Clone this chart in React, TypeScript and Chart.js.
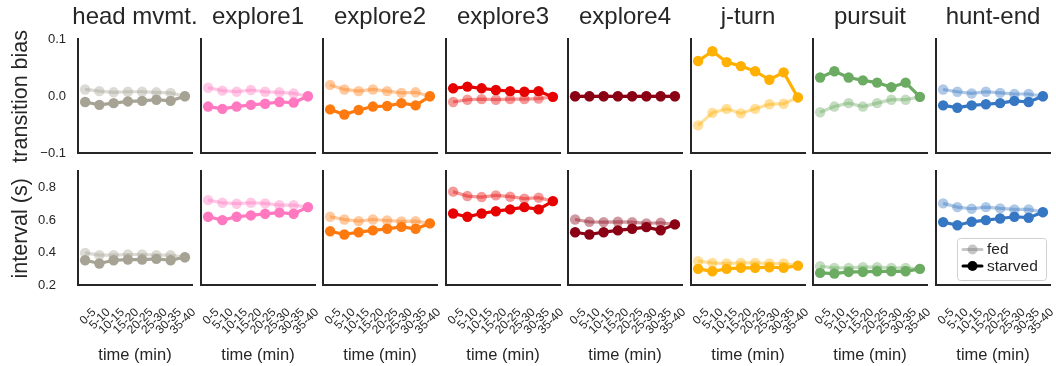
import React, { useEffect, useRef } from 'react';
import { Chart, registerables } from 'chart.js';

Chart.register(...registerables);

// ---------- data ----------
const timeBins = ['0-5', '5-10', '10-15', '15-20', '20-25', '25-30', '30-35', '35-40'];
const behaviours = ['head mvmt.', 'explore1', 'explore2', 'explore3', 'explore4', 'j-turn', 'pursuit', 'hunt-end'];
const behaviourColors = ['#a6a394', '#ff78c0', '#ff7a0e', '#e60000', '#8a0014', '#ffb000', '#6cab62', '#3677c4'];

const biasTicks = [-0.1, 0.0, 0.1];
const biasTickLabels = ['\u22120.1', '0.0', '0.1'];
const intervalTicks = [0.2, 0.4, 0.6, 0.8];
const intervalTickLabels = ['0.2', '0.4', '0.6', '0.8'];

const legendLabels = ['fed', 'starved'];

// transition bias
const headBiasStarved = [-0.010, -0.015, -0.012, -0.009, -0.008, -0.006, -0.008, 0.0];
const headBiasFed = [0.012, 0.009, 0.007, 0.008, 0.008, 0.007, 0.006, 0.0];
const explore1BiasStarved = [-0.018, -0.022, -0.018, -0.015, -0.013, -0.010, -0.011, 0.0];
const explore1BiasFed = [0.015, 0.010, 0.008, 0.011, 0.008, 0.007, 0.005, 0.0];
const explore2BiasStarved = [-0.023, -0.032, -0.024, -0.018, -0.017, -0.012, -0.016, 0.0];
const explore2BiasFed = [0.020, 0.012, 0.009, 0.012, 0.009, 0.006, 0.007, 0.0];
const explore3BiasStarved = [0.014, 0.017, 0.014, 0.011, 0.009, 0.008, 0.009, -0.001];
const explore3BiasFed = [-0.010, -0.006, -0.005, -0.006, -0.005, -0.005, -0.004, -0.001];
const explore4BiasStarved = [0.0, 0.0, 0.0, 0.0, 0.0, 0.0, 0.0, 0.0];
const explore4BiasFed = [0.0, 0.0, 0.0, 0.0, 0.0, 0.0, 0.0, 0.0];
const jturnBiasStarved = [0.062, 0.079, 0.060, 0.053, 0.044, 0.029, 0.042, -0.002];
const jturnBiasFed = [-0.051, -0.029, -0.022, -0.030, -0.022, -0.014, -0.013, -0.002];
const pursuitBiasStarved = [0.033, 0.044, 0.033, 0.028, 0.024, 0.016, 0.024, -0.001];
const pursuitBiasFed = [-0.028, -0.018, -0.012, -0.018, -0.012, -0.006, -0.006, -0.001];
const huntendBiasStarved = [-0.016, -0.020, -0.016, -0.014, -0.012, -0.008, -0.010, 0.0];
const huntendBiasFed = [0.012, 0.008, 0.005, 0.008, 0.006, 0.004, 0.004, 0.0];

// interval (s)
const headIntStarved = [0.354, 0.334, 0.354, 0.358, 0.358, 0.362, 0.354, 0.372];
const headIntFed = [0.399, 0.385, 0.385, 0.389, 0.389, 0.385, 0.385, 0.372];
const explore1IntStarved = [0.621, 0.600, 0.621, 0.629, 0.639, 0.646, 0.639, 0.680];
const explore1IntFed = [0.723, 0.707, 0.701, 0.707, 0.703, 0.692, 0.692, 0.680];
const explore2IntStarved = [0.532, 0.512, 0.526, 0.537, 0.547, 0.559, 0.547, 0.580];
const explore2IntFed = [0.621, 0.604, 0.594, 0.604, 0.598, 0.592, 0.594, 0.580];
const explore3IntStarved = [0.641, 0.621, 0.641, 0.655, 0.666, 0.680, 0.666, 0.717];
const explore3IntFed = [0.775, 0.748, 0.742, 0.752, 0.744, 0.732, 0.738, 0.717];
const explore4IntStarved = [0.526, 0.512, 0.526, 0.537, 0.547, 0.557, 0.538, 0.574];
const explore4IntFed = [0.604, 0.590, 0.588, 0.590, 0.588, 0.580, 0.584, 0.574];
const jturnIntStarved = [0.301, 0.286, 0.301, 0.307, 0.307, 0.311, 0.307, 0.321];
const jturnIntFed = [0.348, 0.338, 0.334, 0.338, 0.338, 0.334, 0.334, 0.321];
const pursuitIntStarved = [0.276, 0.272, 0.282, 0.282, 0.286, 0.286, 0.286, 0.301];
const pursuitIntFed = [0.317, 0.307, 0.307, 0.311, 0.311, 0.307, 0.307, 0.301];
const huntendIntStarved = [0.588, 0.569, 0.590, 0.600, 0.610, 0.621, 0.615, 0.649];
const huntendIntFed = [0.703, 0.680, 0.670, 0.680, 0.672, 0.666, 0.666, 0.649];

const biasStarved = [headBiasStarved, explore1BiasStarved, explore2BiasStarved, explore3BiasStarved, explore4BiasStarved, jturnBiasStarved, pursuitBiasStarved, huntendBiasStarved];
const biasFed = [headBiasFed, explore1BiasFed, explore2BiasFed, explore3BiasFed, explore4BiasFed, jturnBiasFed, pursuitBiasFed, huntendBiasFed];
const intStarved = [headIntStarved, explore1IntStarved, explore2IntStarved, explore3IntStarved, explore4IntStarved, jturnIntStarved, pursuitIntStarved, huntendIntStarved];
const intFed = [headIntFed, explore1IntFed, explore2IntFed, explore3IntFed, explore4IntFed, jturnIntFed, pursuitIntFed, huntendIntFed];

// ---------- style / layout ----------
const FONT = "'Liberation Sans', Arial, sans-serif";
const TEXT = '#262626';
const PLOT_LEFTS = [78, 201, 323, 446, 568, 691, 813, 936];
const PLOT_W = 114;
const SIDE_FIRST = 78;
const SIDE_OTHER = 34;
const FED_ALPHA = 0.4;

function rgba(hex: string, a: number) {
  const n = parseInt(hex.slice(1), 16);
  return `rgba(${(n >> 16) & 255},${(n >> 8) & 255},${n & 255},${a})`;
}

const legendPlugin = {
  id: 'innerLegend',
  afterDraw(chart: any) {
    const { ctx, chartArea } = chart;
    const w = 89;
    const h = 42;
    const x = Math.round(chartArea.right - 4 - w);
    const y = Math.round(chartArea.bottom - 5 - h);
    ctx.save();
    ctx.beginPath();
    ctx.roundRect(x + 0.5, y + 0.5, w, h, 3);
    ctx.fillStyle = 'rgba(255,255,255,0.8)';
    ctx.fill();
    ctx.strokeStyle = '#d0d0d0';
    ctx.lineWidth = 1;
    ctx.stroke();
    const handleColors = [rgba('#808080', 0.45), '#000000'];
    legendLabels.forEach((label, i) => {
      const cy = y + 11.5 + i * 16.5;
      ctx.strokeStyle = handleColors[i];
      ctx.fillStyle = handleColors[i];
      ctx.lineWidth = 3;
      ctx.lineCap = 'round';
      ctx.beginPath();
      ctx.moveTo(x + 6, cy);
      ctx.lineTo(x + 25, cy);
      ctx.stroke();
      ctx.beginPath();
      ctx.arc(x + 15.5, cy, 5, 0, Math.PI * 2);
      ctx.fill();
      ctx.fillStyle = TEXT;
      ctx.font = `15.5px ${FONT}`;
      ctx.textBaseline = 'middle';
      ctx.textAlign = 'left';
      ctx.fillText(label, x + 30, cy + 0.5);
    });
    ctx.restore();
  },
};

function Panel({ row, col }: { row: number; col: number }) {
  const ref = useRef<HTMLCanvasElement>(null);
  const first = col === 0;
  const isBias = row === 0;
  const side = first ? SIDE_FIRST : SIDE_OTHER;
  const top = isBias ? 0 : 160;
  const height = isBias ? 170 : 206;
  const left = PLOT_LEFTS[col] - side;
  const width = PLOT_W + 2 * side;

  useEffect(() => {
    if (!ref.current) return;
    const color = behaviourColors[col];
    const starved = isBias ? biasStarved[col] : intStarved[col];
    const fed = isBias ? biasFed[col] : intFed[col];
    const tickVals = isBias ? biasTicks : intervalTicks;
    const tickLabels = isBias ? biasTickLabels : intervalTickLabels;
    const fedColor = rgba(color, FED_ALPHA);

    const chart = new Chart(ref.current, {
      type: 'line',
      data: {
        labels: timeBins,
        datasets: [
          {
            label: 'starved',
            data: starved,
            borderColor: color,
            backgroundColor: color,
            pointBackgroundColor: color,
            borderWidth: 3.2,
            pointRadius: 5.2,
            pointHoverRadius: 5.2,
            pointBorderWidth: 0,
            tension: 0,
          },
          {
            label: 'fed',
            data: fed,
            borderColor: fedColor,
            backgroundColor: fedColor,
            pointBackgroundColor: fedColor,
            borderWidth: 3.2,
            pointRadius: 5.2,
            pointHoverRadius: 5.2,
            pointBorderWidth: 0,
            tension: 0,
          },
        ],
      },
      options: {
        animation: false,
        responsive: false,
        events: [],
        layout: {
          padding: {
            left: 0,
            right: 0,
            top: isBias ? 0 : 11.3,
            bottom: isBias ? 16.7 : 0,
          },
        },
        plugins: {
          legend: { display: false },
          tooltip: { enabled: false },
          title: {
            display: isBias,
            text: behaviours[col],
            fullSize: true,
            color: TEXT,
            font: { family: FONT, size: 24, weight: 'normal' },
            padding: { top: 3.1, bottom: 7.4 },
          },
        },
        scales: {
          x: {
            type: 'category',
            offset: true,
            grid: { display: false, drawTicks: false },
            border: { display: true, color: TEXT, width: 2 },
            ticks: {
              display: !isBias,
              autoSkip: false,
              minRotation: 45,
              maxRotation: 45,
              padding: 20,
              labelOffset: 9,
              color: TEXT,
              font: { family: FONT, size: 12 },
            },
            title: {
              display: !isBias,
              text: 'time (min)',
              color: TEXT,
              font: { family: FONT, size: 16.5 },
              padding: { top: 0, bottom: 1 },
            },
            afterFit: (s: any) => {
              s.height = isBias ? 0 : 80.7;
              s.paddingLeft = 0;
              s.paddingRight = 0;
            },
          },
          y: {
            type: 'linear',
            position: 'left',
            min: tickVals[0],
            max: isBias ? 0.1 : 0.9,
            grid: { display: false, drawTicks: false },
            border: { display: true, color: TEXT, width: 2 },
            afterBuildTicks: (s: any) => {
              s.ticks = tickVals.map((v) => ({ value: v }));
            },
            ticks: {
              display: first,
              padding: isBias ? 12 : 22,
              color: TEXT,
              font: { family: FONT, size: 13 },
              callback: (_v: any, i: number) => tickLabels[i],
            },
            title: {
              display: first,
              text: isBias ? 'transition bias' : 'interval (s)',
              color: TEXT,
              font: { family: FONT, size: 21.5 },
              padding: { top: 8.5, bottom: 0 },
            },
            afterFit: (s: any) => {
              s.width = side;
              s.paddingTop = 0;
              s.paddingBottom = 0;
            },
          },
          yRightSpace: {
            type: 'linear',
            position: 'right',
            display: true,
            grid: { display: false, drawTicks: false },
            border: { display: false },
            ticks: { display: false },
            afterFit: (s: any) => {
              s.width = side;
              s.paddingTop = 0;
              s.paddingBottom = 0;
            },
          },
        },
      },
      plugins: row === 1 && col === 7 ? [legendPlugin] : [],
    } as any);
    return () => chart.destroy();
  }, [row, col]);

  return (
    <canvas
      ref={ref}
      width={width}
      height={height}
      style={{ position: 'absolute', left, top, width, height }}
    />
  );
}

export default function App() {
  const panels: JSX.Element[] = [];
  for (let r = 0; r < 2; r++) {
    for (let c = 0; c < behaviours.length; c++) {
      panels.push(<Panel key={`${r}-${c}`} row={r} col={c} />);
    }
  }
  return (
    <div style={{ position: 'absolute', left: 0, top: 0, width: 1056, height: 366, background: '#ffffff', overflow: 'hidden' }}>
      {panels}
    </div>
  );
}
